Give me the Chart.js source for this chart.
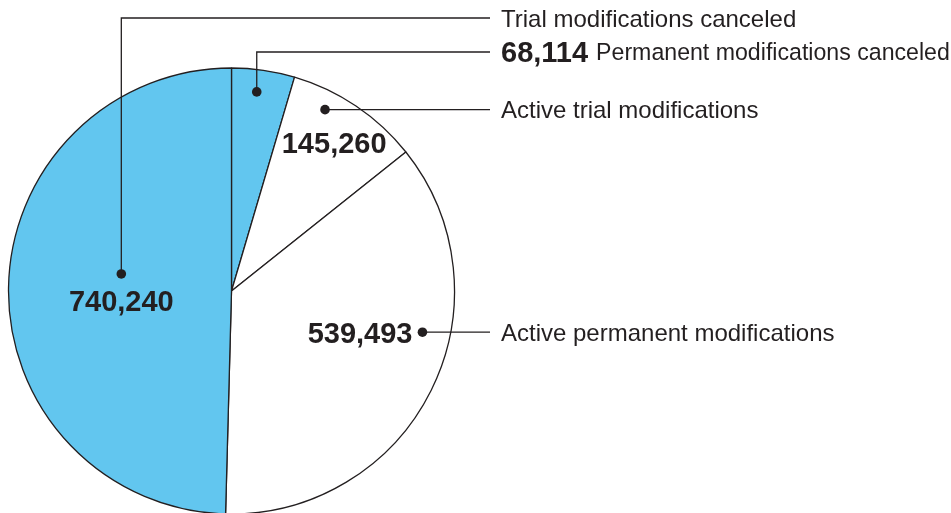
<!DOCTYPE html>
<html>
<head>
<meta charset="utf-8">
<script src="https://cdn.jsdelivr.net/npm/chart.js@4"></script>
<style>
  html, body { margin: 0; padding: 0; background: #fff; }
  #wrap { width: 951px; height: 513px; position: relative; }
</style>
</head>
<body>
<div id="wrap"><canvas id="pie"></canvas></div>
<script>
// slices, clockwise from 12 o'clock
const categories = ["Permanent modifications canceled", "Active trial modifications", "Active permanent modifications", "Trial modifications canceled"];
const values = [68114, 145260, 539493, 740240];
const sliceColors = ["#62c6ef", "#ffffff", "#ffffff", "#62c6ef"];

const ink = "#231f20";
const fontFamily = "'Liberation Sans', Arial, Helvetica, sans-serif";
const nameSize = 24;
const valueSize = 29;
const lineEndX = 490;
const textX = 501;
const rightEdge = 950;

// where each callout dot sits inside its slice (fraction of the sweep, fraction of the radius)
// rowY: text row for elbow leaders, null = straight across from the dot
const callouts = [
  { at: 0.44, rf: 0.90, rowY: 52, value: "row" },
  { at: 0.31, rf: 0.915, rowY: null, value: { at: 0.52, rf: 0.81 } },
  { at: 0.39, rf: 0.876, rowY: null, value: "left" },
  { at: 0.545, rf: 0.50, rowY: 18, value: "below" }
];

const fmt = v => v.toLocaleString("en-US");

const calloutPlugin = {
  id: "callouts",
  afterDatasetsDraw(chart) {
    const ctx = chart.ctx;
    const meta = chart.getDatasetMeta(0);
    ctx.save();
    meta.data.forEach((arc, i) => {
      const p = arc.getProps(["x", "y", "startAngle", "endAngle", "outerRadius"], true);
      const c = callouts[i];
      const a = p.startAngle + (p.endAngle - p.startAngle) * c.at;
      const dx = p.x + Math.cos(a) * p.outerRadius * c.rf;
      const dy = p.y + Math.sin(a) * p.outerRadius * c.rf;
      const rowY = c.rowY == null ? dy : c.rowY;

      // leader line
      ctx.strokeStyle = ink;
      ctx.lineWidth = 1.3;
      ctx.beginPath();
      ctx.moveTo(dx, dy);
      if (c.rowY != null) ctx.lineTo(dx, rowY);
      ctx.lineTo(lineEndX, rowY);
      ctx.stroke();

      ctx.fillStyle = ink;
      ctx.beginPath();
      ctx.arc(dx, dy, 4.8, 0, Math.PI * 2);
      ctx.fill();

      // row text
      let x = textX;
      ctx.textBaseline = "alphabetic";
      ctx.textAlign = "left";
      if (c.value === "row") {
        ctx.font = "bold " + valueSize + "px " + fontFamily;
        ctx.fillText(fmt(values[i]), x, rowY + valueSize * 0.716 / 2);
        x += ctx.measureText(fmt(values[i])).width + 8;
      }
      // shrink the name if it would run off the right edge
      let size = nameSize;
      ctx.font = size + "px " + fontFamily;
      const w = ctx.measureText(categories[i]).width;
      if (x + w > rightEdge) {
        size = size * (rightEdge - x) / w;
        ctx.font = size + "px " + fontFamily;
      }
      ctx.fillText(categories[i], x, rowY + size * 0.716 / 2);

      // value label
      if (c.value === "row") return;
      ctx.font = "bold " + valueSize + "px " + fontFamily;
      let vx, vy;
      if (c.value === "below") {
        ctx.textAlign = "center";
        vx = dx; vy = dy + 27;
      } else if (c.value === "left") {
        ctx.textAlign = "right";
        vx = dx - 10; vy = dy;
      } else {
        ctx.textAlign = "center";
        const va = p.startAngle + (p.endAngle - p.startAngle) * c.value.at;
        vx = p.x + Math.cos(va) * p.outerRadius * c.value.rf;
        vy = p.y + Math.sin(va) * p.outerRadius * c.value.rf;
      }
      ctx.fillText(fmt(values[i]), vx, vy + valueSize * 0.716 / 2);
    });
    ctx.restore();
  }
};

new Chart(document.getElementById("pie"), {
  type: "pie",
  data: {
    labels: categories,
    datasets: [{
      data: values,
      backgroundColor: sliceColors,
      borderColor: ink,
      borderWidth: 1.3,
      radius: 223
    }]
  },
  options: {
    responsive: true,
    maintainAspectRatio: false,
    animation: false,
    radius: 223,
    layout: { padding: { top: 69, right: 488, bottom: 0, left: 0 } },
    plugins: {
      legend: { display: false },
      tooltip: { enabled: false }
    }
  },
  plugins: [calloutPlugin]
});
</script>
</body>
</html>
